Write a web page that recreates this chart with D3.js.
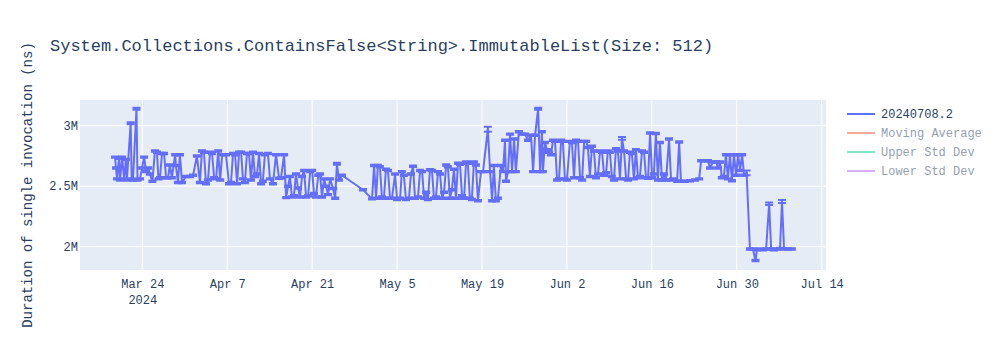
<!DOCTYPE html>
<html>
<head>
<meta charset="utf-8">
<script src="https://cdn.jsdelivr.net/npm/d3@7"></script>
<style>
  html, body { margin: 0; padding: 0; background: #fff; }
  svg { display: block; font-family: "Liberation Mono", "Courier New", monospace; }
</style>
</head>
<body>
<svg id="chart" width="1000" height="350"></svg>
<script>
// ---- chart text ----
const chartTitle = "System.Collections.ContainsFalse<String>.ImmutableList(Size: 512)";
const yAxisTitle = "Duration of single invocation (ns)";

// ---- legend entries (only the first series is shown, the rest are toggled off) ----
const legendNames = ["20240708.2", "Moving Average", "Upper Std Dev", "Lower Std Dev"];
const legendColors = ["#636efa", "#EF553B", "#00cc96", "#ab63fa"];
const legendVisible = [true, false, false, false];

// ---- benchmark runs: timestamp, mean duration (ns), error (ns) ----
const runDates = [
  "2024-03-19T12","2024-03-19T16","2024-03-19T20","2024-03-20T04","2024-03-20T08","2024-03-20T16","2024-03-21T00","2024-03-21T07","2024-03-21T11","2024-03-22T02",
  "2024-03-22T06","2024-03-22T11","2024-03-23T01","2024-03-23T05","2024-03-23T15","2024-03-23T23","2024-03-24T07","2024-03-24T15","2024-03-24T23","2024-03-25T06",
  "2024-03-25T16","2024-03-26T02","2024-03-26T10","2024-03-26T16","2024-03-26T22","2024-03-27T06","2024-03-27T14","2024-03-27T22","2024-03-28T06","2024-03-28T13",
  "2024-03-28T21","2024-03-29T10","2024-03-29T13","2024-03-29T21","2024-03-30T05","2024-03-30T13","2024-03-31T05","2024-03-31T21","2024-04-01T09","2024-04-02T00",
  "2024-04-02T12","2024-04-02T20","2024-04-03T04","2024-04-03T12","2024-04-03T20","2024-04-04T04","2024-04-04T12","2024-04-04T20","2024-04-05T04","2024-04-05T12",
  "2024-04-05T20","2024-04-06T04","2024-04-06T19","2024-04-07T07","2024-04-07T15","2024-04-07T23","2024-04-08T07","2024-04-08T15","2024-04-08T23","2024-04-09T07",
  "2024-04-09T14","2024-04-09T22","2024-04-10T06","2024-04-10T14","2024-04-10T22","2024-04-11T06","2024-04-11T14","2024-04-11T22","2024-04-12T06","2024-04-12T14",
  "2024-04-12T21","2024-04-13T05","2024-04-13T17","2024-04-14T01","2024-04-14T13","2024-04-15T01","2024-04-15T13","2024-04-15T21","2024-04-16T09","2024-04-16T17",
  "2024-04-17T01","2024-04-17T08","2024-04-17T16","2024-04-18T00","2024-04-18T08","2024-04-18T16","2024-04-19T00","2024-04-19T08","2024-04-19T16","2024-04-20T00",
  "2024-04-20T08","2024-04-20T16","2024-04-21T00","2024-04-21T07","2024-04-21T15","2024-04-22T00","2024-04-22T07","2024-04-22T15","2024-04-22T23","2024-04-23T07",
  "2024-04-23T15","2024-04-23T23","2024-04-24T11","2024-04-24T19","2024-04-25T02","2024-04-25T10","2024-04-25T22","2024-04-29T09","2024-04-30T21","2024-05-01T05",
  "2024-05-01T13","2024-05-01T20","2024-05-02T04","2024-05-02T12","2024-05-02T20","2024-05-03T04","2024-05-03T12","2024-05-03T20","2024-05-04T04","2024-05-04T16",
  "2024-05-05T00","2024-05-05T12","2024-05-05T19","2024-05-06T03","2024-05-06T11","2024-05-06T23","2024-05-07T07","2024-05-07T15","2024-05-07T23","2024-05-08T11",
  "2024-05-08T19","2024-05-09T03","2024-05-09T11","2024-05-09T19","2024-05-10T02","2024-05-10T10","2024-05-10T18","2024-05-11T02","2024-05-11T10","2024-05-11T18",
  "2024-05-12T02","2024-05-12T10","2024-05-12T18","2024-05-13T02","2024-05-13T09","2024-05-13T17","2024-05-14T01","2024-05-14T09","2024-05-14T17","2024-05-15T01",
  "2024-05-15T09","2024-05-15T17","2024-05-16T01","2024-05-16T09","2024-05-16T16","2024-05-17T00","2024-05-17T08","2024-05-17T16","2024-05-18T00","2024-05-18T08",
  "2024-05-18T20","2024-05-19T04","2024-05-19T23","2024-05-20T08","2024-05-20T16","2024-05-20T23","2024-05-21T07","2024-05-21T15","2024-05-22T03","2024-05-22T11",
  "2024-05-22T19","2024-05-22T23","2024-05-23T07","2024-05-23T15","2024-05-23T23","2024-05-24T07","2024-05-24T14","2024-05-25T02","2024-05-25T14","2024-05-26T02",
  "2024-05-26T14","2024-05-27T02","2024-05-27T10","2024-05-27T18","2024-05-28T06","2024-05-28T14","2024-05-28T21","2024-05-29T01","2024-05-29T09","2024-05-29T17",
  "2024-05-30T01","2024-05-30T09","2024-05-30T17","2024-05-31T01","2024-05-31T09","2024-05-31T17","2024-06-01T01","2024-06-01T08","2024-06-01T16","2024-06-02T00",
  "2024-06-02T12","2024-06-02T20","2024-06-03T04","2024-06-03T12","2024-06-03T20","2024-06-04T04","2024-06-04T12","2024-06-04T20","2024-06-05T04","2024-06-05T11",
  "2024-06-05T19","2024-06-06T03","2024-06-06T11","2024-06-06T19","2024-06-07T03","2024-06-07T11","2024-06-07T19","2024-06-08T03","2024-06-08T11","2024-06-08T18",
  "2024-06-09T02","2024-06-09T10","2024-06-09T18","2024-06-10T02","2024-06-10T10","2024-06-10T18","2024-06-11T02","2024-06-11T10","2024-06-11T18","2024-06-12T02",
  "2024-06-12T09","2024-06-12T17","2024-06-13T01","2024-06-13T09","2024-06-13T17","2024-06-14T01","2024-06-14T09","2024-06-14T17","2024-06-15T01","2024-06-15T09",
  "2024-06-15T17","2024-06-16T01","2024-06-16T08","2024-06-16T16","2024-06-17T00","2024-06-17T08","2024-06-17T16","2024-06-18T00","2024-06-18T08","2024-06-18T20",
  "2024-06-19T04","2024-06-19T12","2024-06-20T04","2024-06-20T12","2024-06-20T19","2024-06-21T11","2024-06-22T07","2024-06-23T03","2024-06-23T19","2024-06-24T03",
  "2024-06-24T18","2024-06-25T06","2024-06-25T14","2024-06-26T02","2024-06-26T14","2024-06-26T22","2024-06-27T06","2024-06-27T13","2024-06-27T21","2024-06-28T05",
  "2024-06-28T13","2024-06-28T21","2024-06-29T05","2024-06-29T13","2024-06-29T21","2024-06-30T05","2024-06-30T13","2024-06-30T21","2024-07-01T05","2024-07-01T15",
  "2024-07-02T04","2024-07-02T16","2024-07-03T02","2024-07-03T08","2024-07-03T20","2024-07-04T08","2024-07-04T20","2024-07-05T08","2024-07-05T16","2024-07-06T03",
  "2024-07-06T15","2024-07-07T03","2024-07-07T11","2024-07-07T19","2024-07-08T11","2024-07-09T02"
];

const durations = [
  2.74e6,2.65e6,2.56e6,2.73e6,2.55e6,2.74e6,2.56e6,2.72e6,2.55e6,3.02e6,
  2.56e6,2.55e6,3.14e6,2.55e6,2.56e6,2.65e6,2.74e6,2.62e6,2.65e6,2.60e6,
  2.54e6,2.79e6,2.78e6,2.56e6,2.57e6,2.77e6,2.77e6,2.57e6,2.57e6,2.675e6,
  2.57e6,2.76e6,2.67e6,2.53e6,2.76e6,2.53e6,2.58e6,2.58e6,2.59e6,2.75e6,
  2.53e6,2.79e6,2.78e6,2.52e6,2.55e6,2.78e6,2.77e6,2.57e6,2.56e6,2.79e6,
  2.55e6,2.76e6,2.76e6,2.52e6,2.53e6,2.77e6,2.76e6,2.52e6,2.78e6,2.78e6,
  2.56e6,2.53e6,2.77e6,2.77e6,2.55e6,2.78e6,2.58e6,2.60e6,2.77e6,2.52e6,
  2.54e6,2.76e6,2.77e6,2.56e6,2.52e6,2.76e6,2.565e6,2.57e6,2.76e6,2.405e6,
  2.50e6,2.58e6,2.41e6,2.42e6,2.60e6,2.485e6,2.41e6,2.58e6,2.63e6,2.41e6,
  2.42e6,2.62e6,2.63e6,2.44e6,2.41e6,2.59e6,2.60e6,2.41e6,2.56e6,2.50e6,
  2.43e6,2.56e6,2.48e6,2.40e6,2.685e6,2.55e6,2.59e6,2.47e6,2.395e6,2.67e6,
  2.40e6,2.67e6,2.66e6,2.41e6,2.40e6,2.64e6,2.63e6,2.40e6,2.40e6,2.60e6,
  2.39e6,2.40e6,2.62e6,2.59e6,2.39e6,2.40e6,2.60e6,2.665e6,2.40e6,2.41e6,
  2.63e6,2.62e6,2.40e6,2.45e6,2.39e6,2.635e6,2.63e6,2.40e6,2.41e6,2.62e6,
  2.60e6,2.40e6,2.45e6,2.675e6,2.66e6,2.40e6,2.47e6,2.64e6,2.40e6,2.69e6,
  2.68e6,2.42e6,2.40e6,2.70e6,2.69e6,2.40e6,2.39e6,2.70e6,2.675e6,2.38e6,
  2.62e6,2.62e6,2.97e6,2.62e6,2.38e6,2.67e6,2.38e6,2.40e6,2.67e6,2.62e6,
  2.88e6,2.54e6,2.62e6,2.93e6,2.62e6,2.89e6,2.62e6,2.95e6,2.93e6,2.93e6,
  2.88e6,2.92e6,2.62e6,2.92e6,3.14e6,2.62e6,2.95e6,2.62e6,2.86e6,2.80e6,
  2.78e6,2.76e6,2.88e6,2.87e6,2.55e6,2.56e6,2.88e6,2.87e6,2.56e6,2.55e6,
  2.87e6,2.86e6,2.57e6,2.88e6,2.87e6,2.57e6,2.55e6,2.87e6,2.87e6,2.82e6,
  2.58e6,2.83e6,2.79e6,2.57e6,2.60e6,2.79e6,2.78e6,2.59e6,2.61e6,2.79e6,
  2.78e6,2.58e6,2.55e6,2.81e6,2.79e6,2.56e6,2.895e6,2.79e6,2.56e6,2.55e6,
  2.78e6,2.77e6,2.56e6,2.80e6,2.57e6,2.58e6,2.79e6,2.78e6,2.57e6,2.565e6,
  2.94e6,2.57e6,2.60e6,2.935e6,2.55e6,2.86e6,2.55e6,2.60e6,2.55e6,2.89e6,
  2.55e6,2.56e6,2.54e6,2.865e6,2.54e6,2.54e6,2.545e6,2.55e6,2.56e6,2.71e6,
  2.71e6,2.71e6,2.65e6,2.70e6,2.70e6,2.65e6,2.70e6,2.57e6,2.58e6,2.76e6,
  2.56e6,2.76e6,2.545e6,2.76e6,2.59e6,2.76e6,2.63e6,2.76e6,2.59e6,2.61e6,
  1.98e6,1.98e6,1.885e6,1.975e6,1.98e6,1.975e6,1.98e6,2.355e6,1.98e6,1.975e6,
  1.98e6,1.985e6,2.373e6,1.98e6,1.98e6,1.98e6
];

const errors = [
  6000,6000,6000,6000,6000,6000,6000,6000,6000,8000,
  6000,6000,8000,6000,6000,6000,6000,6000,6000,6000,
  6000,6000,6000,6000,6000,6000,6000,6000,6000,6000,
  6000,6000,6000,6000,6000,6000,6000,6000,6000,6000,
  6000,6000,6000,6000,6000,6000,6000,6000,6000,6000,
  6000,6000,6000,6000,6000,6000,6000,6000,6000,6000,
  6000,6000,6000,6000,6000,6000,6000,6000,6000,6000,
  6000,6000,6000,6000,6000,6000,6000,6000,6000,6000,
  6000,6000,6000,6000,6000,6000,6000,6000,6000,6000,
  6000,6000,6000,6000,6000,6000,6000,6000,6000,6000,
  6000,6000,6000,6000,8000,6000,6000,6000,6000,6000,
  6000,6000,6000,6000,6000,6000,6000,6000,6000,6000,
  6000,6000,6000,6000,6000,6000,6000,6000,6000,6000,
  6000,6000,6000,6000,6000,6000,6000,6000,6000,6000,
  6000,6000,6000,6000,6000,6000,6000,6000,6000,6000,
  6000,6000,6000,6000,6000,6000,6000,6000,6000,6000,
  6000,6000,20000,6000,6000,6000,6000,6000,6000,6000,
  6000,6000,6000,6000,6000,6000,6000,6000,6000,6000,
  6000,6000,6000,6000,8000,6000,6000,6000,6000,6000,
  6000,6000,6000,6000,6000,6000,6000,6000,6000,6000,
  6000,6000,6000,6000,6000,6000,6000,6000,6000,6000,
  6000,6000,6000,6000,6000,6000,6000,6000,6000,6000,
  6000,6000,6000,6000,6000,6000,12000,6000,6000,6000,
  6000,6000,6000,6000,6000,6000,6000,6000,6000,6000,
  6000,6000,6000,6000,6000,6000,6000,6000,6000,6000,
  6000,6000,6000,6000,6000,6000,6000,6000,6000,6000,
  6000,6000,6000,6000,6000,6000,6000,6000,6000,6000,
  6000,6000,6000,6000,6000,6000,6000,6000,6000,20000,
  6000,6000,6000,6000,6000,6000,6000,10000,6000,6000,
  6000,6000,13000,6000,6000,6000
];

// ---- axis ticks ----
const xTickDates = ["2024-03-24","2024-04-07","2024-04-21","2024-05-05","2024-05-19","2024-06-02","2024-06-16","2024-06-30","2024-07-14"];
const yTickValues = [2e6, 2.5e6, 3e6];
const xDomainBounds = ["2024-03-13T17:30", "2024-07-14T17:00"];
const yDomainBounds = [1.807e6, 3.212e6];

// ---- layout ----
const width = 1000, height = 350;
const margin = { top: 100, right: 174, bottom: 80, left: 80 };
const plotW = width - margin.left - margin.right;
const plotH = height - margin.top - margin.bottom;
const textColor = "#2a3f5f";

const parseRun = d3.timeParse("%Y-%m-%dT%H");
const parseDay = d3.timeParse("%Y-%m-%d");
const parseBound = d3.timeParse("%Y-%m-%dT%H:%M");

const points = runDates.map((d, i) => ({ t: parseRun(d), v: durations[i], e: errors[i] }));

const x = d3.scaleTime()
  .domain(xDomainBounds.map(parseBound))
  .range([margin.left, margin.left + plotW]);
const y = d3.scaleLinear()
  .domain(yDomainBounds)
  .range([margin.top + plotH, margin.top]);

const svg = d3.select("#chart");

// plot background
svg.append("rect")
  .attr("x", margin.left).attr("y", margin.top)
  .attr("width", plotW).attr("height", plotH)
  .attr("fill", "#E5ECF6");

svg.append("clipPath").attr("id", "plot-clip")
  .append("rect")
  .attr("x", margin.left).attr("y", margin.top)
  .attr("width", plotW).attr("height", plotH);

// grid lines
const xTicks = xTickDates.map(parseDay);
svg.append("g").selectAll("line").data(xTicks).join("line")
  .attr("x1", d => x(d)).attr("x2", d => x(d))
  .attr("y1", margin.top).attr("y2", margin.top + plotH)
  .attr("stroke", "#fff").attr("stroke-width", 1);
svg.append("g").selectAll("line").data(yTickValues).join("line")
  .attr("x1", margin.left).attr("x2", margin.left + plotW)
  .attr("y1", d => y(d)).attr("y2", d => y(d))
  .attr("stroke", "#fff").attr("stroke-width", 1);

// x axis
const fmtDay = d3.timeFormat("%b %-d");
const xAxis = svg.append("g")
  .attr("transform", `translate(0,${margin.top + plotH})`)
  .call(d3.axisBottom(x).tickValues(xTicks).tickFormat(fmtDay).tickSize(0).tickPadding(9));
xAxis.select(".domain").remove();
xAxis.selectAll("text")
  .attr("fill", textColor)
  .style("font-family", '"Liberation Mono", "Courier New", monospace')
  .style("font-size", "12px");
// year under the first tick label
xAxis.selectAll(".tick").filter((d, i) => i === 0).select("text")
  .append("tspan").attr("x", 0).attr("dy", "1.35em")
  .text(d => d3.timeFormat("%Y")(d));

// y axis
const yAxis = svg.append("g")
  .attr("transform", `translate(${margin.left},0)`)
  .call(d3.axisLeft(y).tickValues(yTickValues).tickFormat(d3.format("~s")).tickSize(0).tickPadding(2));
yAxis.select(".domain").remove();
yAxis.selectAll("text")
  .attr("fill", textColor)
  .style("font-family", '"Liberation Mono", "Courier New", monospace')
  .style("font-size", "12px");

// series: line plus error bars
const plot = svg.append("g").attr("clip-path", "url(#plot-clip)");
const seriesColor = legendColors[0];

const line = d3.line().x(d => x(d.t)).y(d => y(d.v));
plot.append("path")
  .datum(points)
  .attr("d", line)
  .attr("fill", "none")
  .attr("stroke", seriesColor)
  .attr("stroke-width", 2)
  .attr("stroke-linejoin", "round");

const capHalf = 4;
plot.append("g").selectAll("path").data(points).join("path")
  .attr("d", d => {
    const cx = x(d.t), yHi = y(d.v + d.e), yLo = y(d.v - d.e);
    return `M${cx},${yHi}V${yLo}M${cx - capHalf},${yHi}h${capHalf * 2}M${cx - capHalf},${yLo}h${capHalf * 2}`;
  })
  .attr("fill", "none")
  .attr("stroke", seriesColor)
  .attr("stroke-width", 2);

// title
svg.append("text")
  .attr("x", 50).attr("y", 51)
  .attr("fill", textColor)
  .style("font-size", "17px")
  .text(chartTitle);

// y axis title
svg.append("text")
  .attr("transform", `translate(32,${margin.top + plotH / 2}) rotate(-90)`)
  .attr("text-anchor", "middle")
  .attr("fill", textColor)
  .style("font-size", "14px")
  .text(yAxisTitle);

// legend
const legend = svg.append("g").attr("transform", "translate(847,114)");
const items = legend.selectAll("g").data(legendNames).join("g")
  .attr("transform", (d, i) => `translate(0,${i * 19})`)
  .attr("opacity", (d, i) => legendVisible[i] ? 1 : 0.5);
items.append("line")
  .attr("x1", 0).attr("x2", 28).attr("y1", 0).attr("y2", 0)
  .attr("stroke", (d, i) => legendColors[i])
  .attr("stroke-width", 2);
items.append("text")
  .attr("x", 34).attr("y", 0).attr("dy", "0.35em")
  .attr("fill", textColor)
  .style("font-size", "12px")
  .text(d => d);
</script>
</body>
</html>
